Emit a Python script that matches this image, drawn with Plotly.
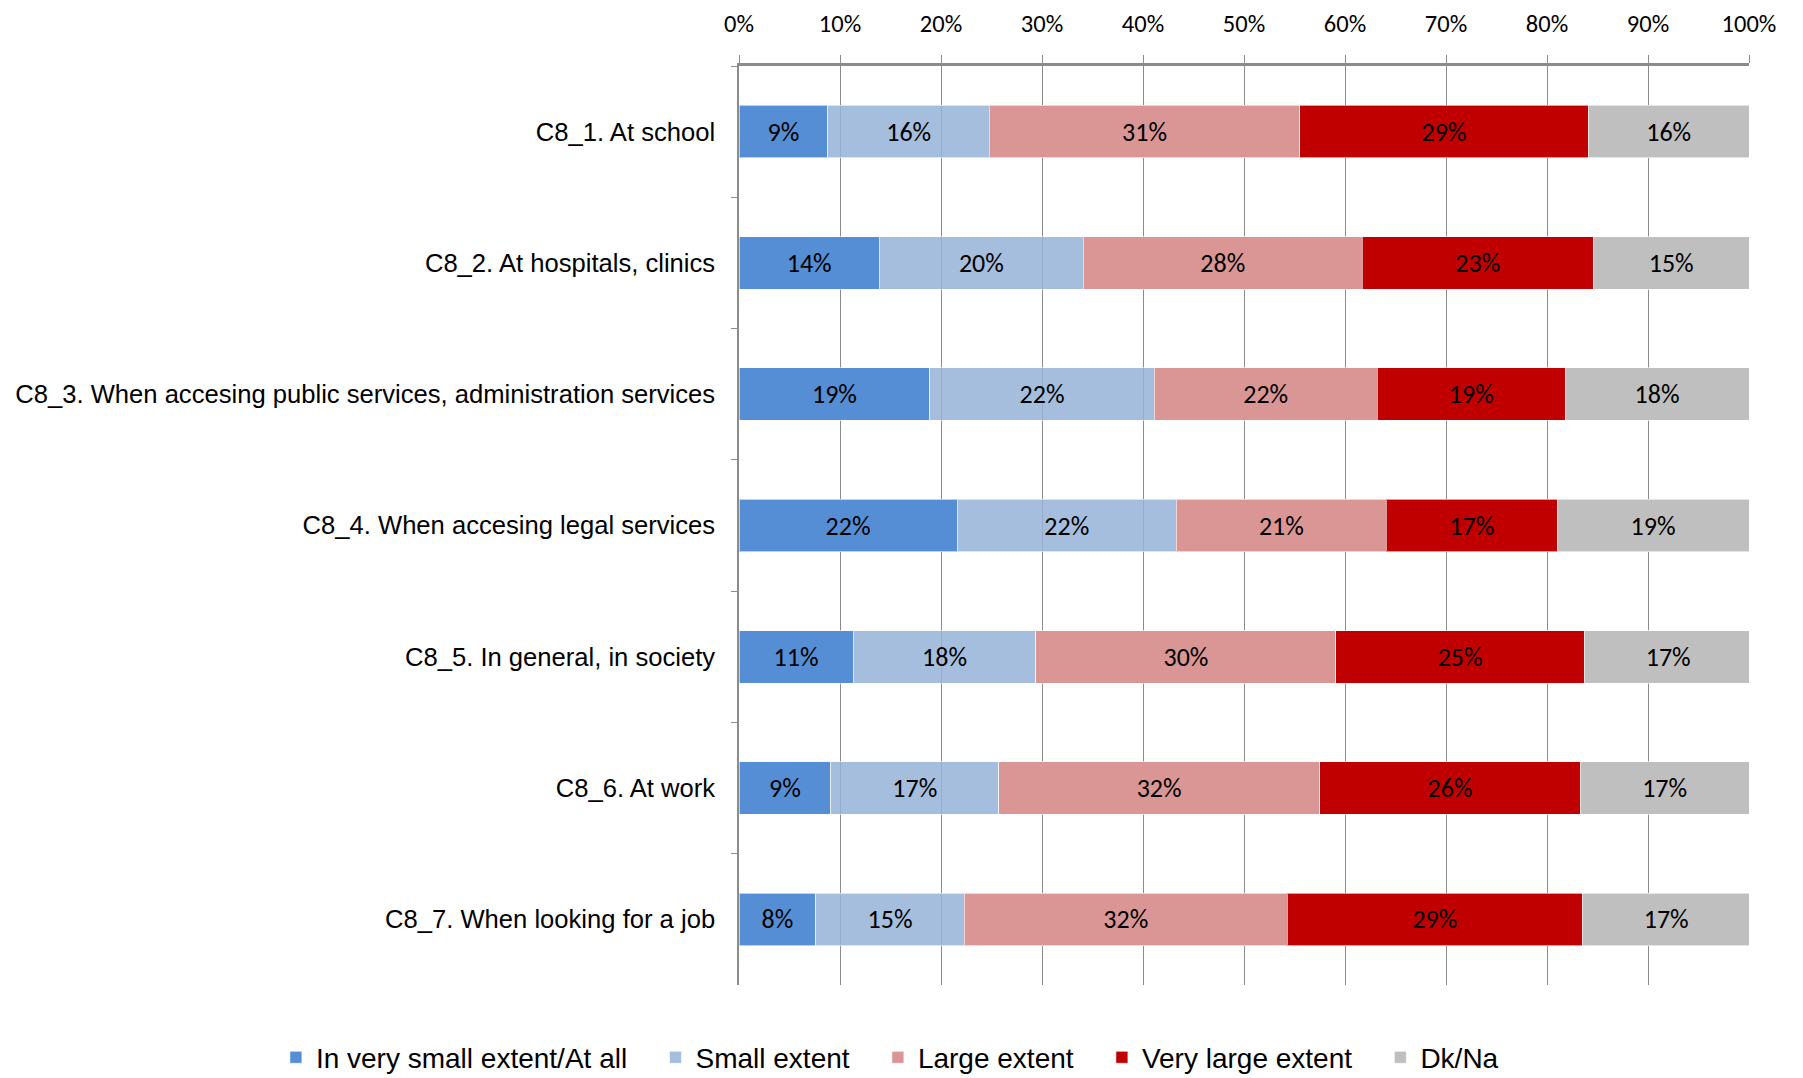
import plotly.graph_objects as go

categories = [
    "C8_1. At school",
    "C8_2. At hospitals, clinics",
    "C8_3. When accesing public services, administration services",
    "C8_4. When accesing legal services",
    "C8_5. In general, in society",
    "C8_6. At work",
    "C8_7. When looking for a job",
]
series_names = ["In very small extent/At all", "Small extent", "Large extent",
                "Very large extent", "Dk/Na"]
very_small = [8.8, 13.9, 18.9, 21.6, 11.3, 9.1, 7.6]
small = [16.0, 20.2, 22.2, 21.7, 18.1, 16.6, 14.7]
large = [30.7, 27.6, 22.1, 20.8, 29.7, 31.8, 32.0]
very_large = [28.6, 22.9, 18.6, 16.9, 24.6, 25.8, 29.2]
dkna = [15.9, 15.4, 18.2, 19.0, 16.6, 16.7, 16.6]
tick_vals = [0, 10, 20, 30, 40, 50, 60, 70, 80, 90, 100]
tick_text = ["0%", "10%", "20%", "30%", "40%", "50%", "60%", "70%", "80%", "90%", "100%"]

colors = ["#558ED5", "rgba(149,179,215,0.85)", "#D99694", "#C00000", "#BFBFBF"]
label_font = "Carlito, Lato, Calibri, sans-serif"
narrow_font = "Liberation Sans, Arial, sans-serif"
legend_pad = "\u00a0" * 3

fig = go.Figure()
for name, vals, col in zip(series_names, [very_small, small, large, very_large, dkna], colors):
    fig.add_trace(go.Bar(
        y=categories, x=vals, name=name + legend_pad, orientation="h",
        marker=dict(color=col, line=dict(color="rgba(255,255,255,0.6)", width=1)),
        text=vals, texttemplate="%{x:.0f}%", textposition="inside",
        insidetextanchor="middle", textangle=0,
        textfont=dict(family=label_font, size=26, color="black"),
        hovertemplate=name + ": %{x}%<extra></extra>",
    ))

fig.update_layout(
    barmode="stack", bargap=0.6,
    width=1795, height=1070,
    margin=dict(l=731, r=54, t=58, b=93, autoexpand=False),
    plot_bgcolor="white", paper_bgcolor="white",
    uniformtext=dict(mode=False),
    xaxis=dict(
        side="top", range=[0, 100], tickvals=tick_vals, ticktext=tick_text,
        showgrid=True, gridcolor="#8C8C8C", gridwidth=1.3,
        showline=True, linecolor="#8C8C8C", linewidth=3,
        ticks="outside", ticklen=8, tickcolor="#8C8C8C",
        tickfont=dict(family=label_font, size=24.5, color="black"),
        ticklabelstandoff=13, automargin=False,
        zeroline=False, fixedrange=True,
    ),
    yaxis=dict(
        autorange="reversed", tickson="boundaries", ticks="outside", ticklen=6,
        tickcolor="#8C8C8C", showline=True, linecolor="#8C8C8C", linewidth=1.5,
        tickfont=dict(family=narrow_font, size=25.6, color="black"),
        ticklabelstandoff=17, automargin=False,
    ),
    legend=dict(
        orientation="h", x=-0.4585, xanchor="left", y=-0.079, yanchor="middle",
        font=dict(family=narrow_font, size=28, color="black"),
        traceorder="normal",
    ),
    showlegend=True,
)

fig.write_html("out.html")
